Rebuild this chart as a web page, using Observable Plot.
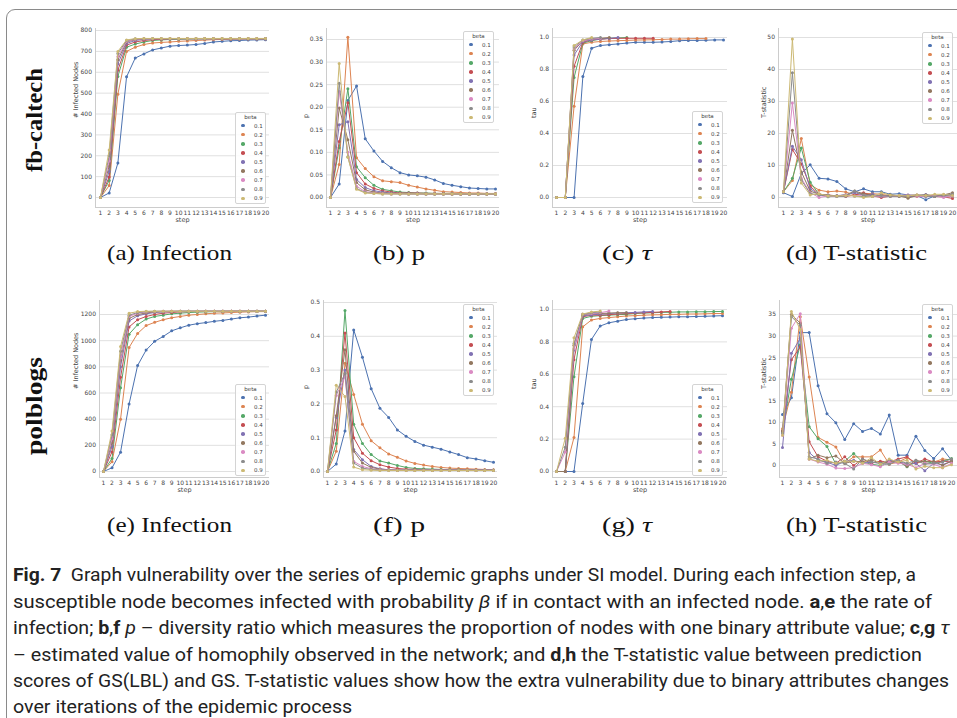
<!DOCTYPE html>
<html><head><meta charset="utf-8">
<script src="https://cdn.jsdelivr.net/npm/d3@7"></script>
<script src="https://cdn.jsdelivr.net/npm/@observablehq/plot@0.6"></script>
<style>
body{margin:0;background:#fff;}
#root{position:relative;width:957px;height:718px;overflow:hidden;background:#fff;}
.abs{position:absolute;}
.border{position:absolute;left:6px;top:9px;width:1000px;height:800px;border:1.5px solid #8a8a8a;border-radius:9px;}
.legend{position:absolute;width:31px;height:92px;border:0.8px solid #d4d4d4;border-radius:2px;background:rgba(255,255,255,0.85);font-family:"DejaVu Sans";font-size:5.5px;color:#444;box-sizing:border-box;}
.legend .t{position:absolute;left:0;width:100%;text-align:center;line-height:6px;}
.legend .d{position:absolute;width:3.6px;height:3.6px;border-radius:50%;}
.legend .l{position:absolute;line-height:6px;}
.cap{position:absolute;font-family:"Liberation Serif",serif;font-size:21px;color:#111;white-space:nowrap;display:inline-block;line-height:24px;}
.row{position:absolute;font-family:"Liberation Serif",serif;font-weight:bold;font-size:23px;color:#111;white-space:nowrap;}
.fig{position:absolute;left:13px;font-family:"Liberation Sans Narrow","Roboto","Open Sans",sans-serif;font-size:19px;color:#222;white-space:nowrap;display:inline-block;line-height:20px;}
.fig b{font-weight:bold;}
</style></head><body><div id="root"><div class="border"></div></div>
<script>
const steps = [1,2,3,4,5,6,7,8,9,10,11,12,13,14,15,16,17,18,19,20];
const betas = ["0.1","0.2","0.3","0.4","0.5","0.6","0.7","0.8","0.9"];
const colors = ["#4C72B0","#DD8452","#55A868","#C44E52","#8172B3","#937860","#DA8BC3","#8C8C8C","#CCB974"];

// (a) fb-caltech: # infected nodes
const caltechInfected = [
 [0,22,165,578,668,688,707,716,725,728,730,733,738,745,748,751,752,754,755,756],
 [0,57,495,700,720,733,740,743,745,748,750,752,754,756,757,758,759,760,760,760],
 [0,82,580,720,735,745,752,755,757,758,759,760,760,761,761,761,761,761,761,761],
 [0,98,610,730,745,752,756,758,760,761,761,761,761,761,761,761,761,761,761,761],
 [0,125,640,738,752,758,760,761,761,761,761,761,761,761,761,761,761,761,761,761],
 [0,150,660,745,756,760,761,761,761,761,761,761,761,761,761,761,761,761,761,761],
 [0,175,675,748,758,761,761,761,761,761,761,761,761,761,761,761,761,761,761,761],
 [0,200,690,752,760,761,761,761,761,761,761,761,761,761,761,761,761,761,761,761],
 [0,228,700,755,761,762,762,762,762,762,762,762,762,762,762,762,762,762,762,762]
];
// (b) fb-caltech: p
const caltechP = [
 [0,0.030,0.215,0.247,0.130,0.103,0.080,0.066,0.055,0.050,0.048,0.045,0.039,0.031,0.027,0.024,0.021,0.020,0.019,0.019],
 [0,0.073,0.355,0.088,0.064,0.046,0.037,0.035,0.033,0.027,0.023,0.019,0.016,0.013,0.012,0.011,0.010,0.010,0.009,0.009],
 [0,0.110,0.241,0.068,0.044,0.027,0.018,0.015,0.012,0.011,0.010,0.010,0.009,0.009,0.009,0.008,0.008,0.008,0.008,0.008],
 [0,0.124,0.210,0.055,0.030,0.020,0.015,0.012,0.010,0.010,0.010,0.009,0.009,0.009,0.008,0.008,0.008,0.008,0.008,0.008],
 [0,0.161,0.168,0.040,0.022,0.015,0.012,0.010,0.009,0.009,0.009,0.008,0.008,0.008,0.008,0.008,0.008,0.008,0.008,0.008],
 [0,0.198,0.128,0.033,0.017,0.012,0.010,0.009,0.009,0.008,0.008,0.008,0.008,0.008,0.008,0.008,0.008,0.008,0.008,0.008],
 [0,0.235,0.100,0.025,0.013,0.010,0.009,0.008,0.008,0.008,0.008,0.008,0.008,0.008,0.008,0.008,0.008,0.008,0.008,0.008],
 [0,0.253,0.090,0.020,0.011,0.009,0.008,0.008,0.008,0.008,0.008,0.008,0.008,0.008,0.008,0.008,0.008,0.008,0.008,0.008],
 [0,0.297,0.089,0.018,0.010,0.009,0.008,0.008,0.008,0.008,0.008,0.008,0.008,0.008,0.008,0.008,0.008,0.008,0.008,0.008]
];
// (c) fb-caltech: tau (series end when tau is no longer defined)
const caltechTau = [
 [0,0,0,0.757,0.933,0.950,0.955,0.960,0.965,0.970,0.970,0.970,0.972,0.975,0.980,0.982,0.982,0.983,0.985,0.985],
 [0,0,0.570,0.960,0.970,0.975,0.978,0.980,0.982,0.984,0.985,0.986,0.988,0.990,0.990,0.992,0.993,0.993],
 [0,0,0.750,0.965,0.980,0.990,0.995,0.997,1.000],
 [0,0,0.820,0.970,0.985,0.990,0.993,0.995,0.995,0.995,0.995,0.995],
 [0,0,0.890,0.975,0.985,0.990,0.995,1.000],
 [0,0,0.920,0.980,0.990,0.995,1.000],
 [0,0,0.930,0.980,0.990,0.995],
 [0,0,0.940,0.985,0.995,1.000],
 [0,0,0.950,0.985,1.000]
];
// (d) fb-caltech: T-statistic
const caltechT = [
 [1.5,0.3,7.5,10.2,6.0,5.8,5.0,2.7,1.8,2.7,1.8,1.8,1.0,1.2,0.8,0.6,-0.7,0.5,0.8,0.8],
 [1.8,5.3,18.4,4.0,2.3,1.8,2.0,1.7,0.8,1.3,1.2,1.0,0.5,0.5,0.6,0.8,0.5,0.3,0.6,0.5],
 [1.8,6.0,15.5,4.8,1.0,0.2,0.5,0.8,0.5,0.3,0.4,0.6,0.7,0.5,0.3,0.6,0.8,0.4,0.6,0.3],
 [1.8,15.0,10.5,3.5,1.0,0.8,0.5,0.3,0.8,1.5,0.5,0.0,0.4,0.5,0.6,0.4,0.5,0.3,0.2,-0.3],
 [1.8,16.0,11.8,2.8,0.8,0.5,0.6,0.8,1.5,0.8,1.0,0.3,0.6,0.5,0.2,0.6,0.9,0.4,0.5,0.6],
 [1.8,21.0,8.0,2.0,1.0,0.6,0.5,0.8,2.0,1.2,0.6,0.5,0.8,0.5,-0.2,0.6,0.8,0.5,0.8,1.5],
 [1.8,29.5,6.0,1.5,0.0,0.5,0.3,0.8,0.5,0.6,0.3,0.5,0.3,0.6,0.8,0.5,0.3,0.6,0.0,0.5],
 [1.8,39.0,5.5,1.2,0.8,0.8,0.3,0.4,2.0,0.6,0.5,0.6,0.3,0.5,0.6,0.8,0.4,0.3,0.8,1.0],
 [1.8,49.5,4.5,0.8,1.2,0.5,0.5,0.6,0.5,0.0,0.3,1.5,0.8,0.6,0.5,0.8,0.6,1.0,1.0,0.6]
];
// (e) polblogs: # infected nodes
const polblogsInfected = [
 [0,28,148,515,810,928,995,1032,1075,1098,1118,1130,1138,1148,1155,1165,1175,1180,1188,1195],
 [0,75,400,948,1055,1115,1140,1160,1175,1185,1195,1200,1205,1210,1212,1215,1218,1220,1222,1222],
 [0,100,640,1050,1122,1165,1185,1195,1205,1210,1215,1218,1220,1222,1222,1223,1223,1224,1224,1224],
 [0,150,720,1105,1160,1185,1200,1210,1215,1220,1222,1223,1224,1224,1224,1225,1225,1225,1225,1225],
 [0,190,800,1150,1190,1205,1215,1220,1222,1224,1225,1225,1225,1225,1225,1225,1225,1225,1225,1225],
 [0,220,850,1170,1200,1212,1220,1222,1224,1225,1225,1225,1225,1225,1225,1225,1225,1225,1225,1225],
 [0,250,880,1185,1210,1220,1223,1225,1225,1225,1225,1225,1225,1225,1225,1225,1225,1225,1225,1225],
 [0,280,920,1195,1215,1222,1225,1225,1225,1225,1225,1225,1225,1225,1225,1225,1225,1225,1225,1225],
 [0,310,955,1210,1222,1225,1225,1225,1225,1225,1225,1225,1225,1225,1225,1225,1225,1225,1225,1225]
];
// (f) polblogs: p
const polblogsP = [
 [0,0.022,0.120,0.419,0.338,0.245,0.187,0.160,0.123,0.104,0.089,0.078,0.072,0.066,0.058,0.050,0.041,0.037,0.032,0.027],
 [0,0.060,0.320,0.228,0.140,0.091,0.070,0.052,0.042,0.031,0.024,0.019,0.015,0.012,0.010,0.009,0.008,0.007,0.006,0.005],
 [0,0.083,0.476,0.140,0.083,0.050,0.031,0.025,0.018,0.012,0.009,0.008,0.007,0.006,0.005,0.005,0.004,0.004,0.004,0.004],
 [0,0.123,0.410,0.100,0.054,0.032,0.020,0.013,0.009,0.007,0.006,0.005,0.004,0.004,0.004,0.004,0.004,0.004,0.004,0.004],
 [0,0.160,0.300,0.065,0.035,0.015,0.008,0.005,0.004,0.004,0.004,0.004,0.004,0.004,0.004,0.004,0.004,0.004,0.004,0.004],
 [0,0.165,0.360,0.060,0.025,0.012,0.007,0.005,0.004,0.004,0.004,0.004,0.004,0.004,0.004,0.004,0.004,0.004,0.004,0.004],
 [0,0.225,0.280,0.030,0.015,0.008,0.005,0.004,0.004,0.004,0.004,0.004,0.004,0.004,0.004,0.004,0.004,0.004,0.004,0.004],
 [0,0.235,0.290,0.025,0.010,0.006,0.004,0.004,0.004,0.004,0.004,0.004,0.004,0.004,0.004,0.004,0.004,0.004,0.004,0.004],
 [0,0.255,0.222,0.013,0.005,0.004,0.003,0.003,0.003,0.003,0.003,0.003,0.003,0.003,0.003,0.003,0.003,0.003,0.003,0.003]
];
// (g) polblogs: tau
const polblogsTau = [
 [0,0,0,0.420,0.815,0.898,0.918,0.928,0.938,0.943,0.947,0.950,0.952,0.953,0.955,0.955,0.957,0.958,0.960,0.962],
 [0,0,0.210,0.893,0.935,0.945,0.950,0.955,0.960,0.962,0.965,0.967,0.968,0.970,0.970,0.972,0.972,0.973,0.975,0.975],
 [0,0,0.585,0.945,0.958,0.962,0.965,0.968,0.970,0.975,0.978,0.980,0.982,0.983,0.985,0.985,0.986,0.986,0.987,0.988],
 [0,0,0.690,0.955,0.965,0.965,0.968,0.972,0.975,0.978,0.980,0.982,0.985,0.988],
 [0,0,0.750,0.960,0.968,0.970,0.975,0.978,0.980,0.982,0.985,0.988],
 [0,0,0.780,0.965,0.975,0.975,0.978,0.980,0.980],
 [0,0.120,0.760,0.970,0.975,0.980,0.990],
 [0,0.150,0.790,0.970,0.980,0.985],
 [0,0.205,0.825,0.972,0.985,0.990]
];
// (h) polblogs: T-statistic
const polblogsT = [
 [11.8,15.7,30.8,30.8,18.5,12.0,9.9,6.0,9.7,7.9,8.6,7.3,11.7,2.4,2.4,6.8,3.5,1.6,3.9,1.2],
 [8.5,17.0,34.5,20.5,6.5,5.4,4.3,0.5,2.0,2.0,2.0,3.6,0.3,0.8,1.8,0.5,1.0,0.8,1.5,1.3],
 [7.8,20.0,28.0,9.0,6.2,4.4,0.3,1.0,2.8,0.8,0.3,0.0,0.5,1.0,-0.3,0.8,1.0,0.5,1.0,1.6],
 [8.0,24.5,27.5,5.5,2.0,1.0,0.5,2.0,0.0,1.5,0.5,1.0,0.8,1.5,2.0,0.5,1.5,0.8,1.0,0.8],
 [4.2,26.0,29.5,3.0,1.2,0.8,0.0,1.0,1.2,0.5,0.8,0.5,1.2,1.0,0.3,0.5,-1.2,0.5,0.2,1.0],
 [8.0,35.0,33.0,1.5,2.4,1.8,2.2,0.5,1.0,0.8,1.3,0.5,0.8,1.0,-0.2,1.2,0.8,1.0,0.0,1.0],
 [7.0,31.8,35.2,1.5,0.8,0.3,-0.6,-0.7,-0.5,0.5,0.2,-0.3,0.8,0.5,0.3,-0.5,0.5,0.3,-0.5,0.5],
 [7.5,34.5,32.5,2.0,1.5,0.5,0.8,0.5,-0.8,1.5,0.8,0.5,0.3,1.2,0.5,1.2,0.3,0.5,0.8,1.5],
 [7.0,35.7,31.5,1.5,1.0,1.2,0.5,1.0,1.0,0.5,1.8,0.3,1.5,0.8,1.2,-0.8,-0.2,-0.5,-0.5,0.2]
];

const infTicksA = [0,100,200,300,400,500,600,700,800];
const pTicksB = [0,0.05,0.10,0.15,0.20,0.25,0.30,0.35];
const tauTicks = [0,0.2,0.4,0.6,0.8,1.0];
const tTicksD = [0,10,20,30,40,50];
const infTicksE = [0,200,400,600,800,1000,1200];
const pTicksF = [0,0.1,0.2,0.3,0.4,0.5];
const tTicksH = [0,5,10,15,20,25,30,35];

const root = document.getElementById("root");

const panels = [
 {series:caltechInfected, fL:95,fR:269,fT:28,fB:207,x1:100,x20:265,y0px:197,y1px:30,y1v:800, ticks:infTicksA, fmt:d=>String(d), ylabel:"# Infected Nodes", ldx:-20, leg:[235,112]},
 {series:caltechP, fL:326,fR:499,fT:28,fB:207,x1:330,x20:495,y0px:197,y1px:39,y1v:0.35, ticks:pTicksB, fmt:d=>d.toFixed(2), ylabel:"p", ldx:-21, leg:[463,31]},
 {series:caltechTau, fL:552,fR:727,fT:28,fB:207,x1:556,x20:723,y0px:197,y1px:37,y1v:1, ticks:tauTicks, fmt:d=>d.toFixed(1), ylabel:"tau", ldx:-19, leg:[692,111]},
 {series:caltechT, fL:778,fR:957,fT:28,fB:207,x1:783,x20:952,y0px:197,y1px:37,y1v:50, ticks:tTicksD, fmt:d=>String(d), ylabel:"T-statistic", ldx:-15, leg:[922,32]},
 {series:polblogsInfected, fL:99,fR:269,fT:300,fB:477,x1:103,x20:265,y0px:471,y1px:314,y1v:1200, ticks:infTicksE, fmt:d=>String(d), ylabel:"# Infected Nodes", ldx:-24, leg:[235,384]},
 {series:polblogsP, fL:323,fR:497,fT:300,fB:477,x1:327,x20:493,y0px:471,y1px:302,y1v:0.5, ticks:pTicksF, fmt:d=>d.toFixed(1), ylabel:"p", ldx:-18, leg:[463,304]},
 {series:polblogsTau, fL:552,fR:727,fT:300,fB:477,x1:556,x20:722,y0px:471,y1px:309,y1v:1, ticks:tauTicks, fmt:d=>d.toFixed(1), ylabel:"tau", ldx:-19, leg:[692,384]},
 {series:polblogsT, fL:779,fR:957,fT:300,fB:477,x1:782,x20:951,y0px:465,y1px:314,y1v:35, ticks:tTicksH, fmt:d=>String(d), ylabel:"T-statistic", ldx:-16, leg:[922,304]}
];

for (const p of panels) {
  const sp = (p.x20 - p.x1) / 19;
  const xd = [1 - (p.x1 - p.fL) / sp, 20 + (p.fR - p.x20) / sp];
  const k = (p.y0px - p.y1px) / p.y1v;
  const yd = [-(p.fB - p.y0px) / k, (p.y0px - p.fT) / k];
  const ML = 50, MT = 4, MR = 2, MB = 24;
  const left = p.fL - ML, top = p.fT - MT;
  const width = p.fR + MR - left, height = p.fB + MB - top;
  const marks = [
    Plot.ruleY(p.ticks, {stroke: "#e0e0e0", strokeWidth: 1}),
    Plot.ruleX([xd[0]], {stroke: "#cccccc", strokeWidth: 1}),
    Plot.ruleY([yd[0]], {stroke: "#cccccc", strokeWidth: 1})
  ];
  p.series.forEach((vals, i) => {
    const data = vals.map((v, j) => ({step: steps[j], value: v}));
    marks.push(Plot.line(data, {x: "step", y: "value", stroke: colors[i], strokeWidth: 1}));
    marks.push(Plot.dot(data, {x: "step", y: "value", fill: colors[i], r: 1.5}));
  });
  marks.push(Plot.text([p.ylabel], {frameAnchor: "left", rotate: -90, dx: p.ldx, fontSize: 6.5, fill: "#444"}));
  marks.push(Plot.text(["step"], {frameAnchor: "bottom", dy: 14, fontSize: 6.5, fill: "#444"}));
  const chart = Plot.plot({
    width, height, marginLeft: ML, marginTop: MT, marginRight: MR, marginBottom: MB,
    style: {fontSize: "6px", fontFamily: "DejaVu Sans", color: "#444", background: "transparent", overflow: "visible"},
    x: {type: "linear", domain: xd, ticks: steps, tickSize: 0, tickPadding: 3, tickFormat: d => String(d), label: null},
    y: {type: "linear", domain: yd, ticks: p.ticks, tickSize: 0, tickPadding: 3.5, tickFormat: p.fmt, label: null},
    marks
  });
  chart.style.position = "absolute";
  chart.style.left = left + "px";
  chart.style.top = top + "px";
  root.appendChild(chart);

  // legend
  const lg = document.createElement("div");
  lg.className = "legend";
  lg.style.left = p.leg[0] + "px";
  lg.style.top = p.leg[1] + "px";
  const t = document.createElement("div");
  t.className = "t"; t.style.top = "1px"; t.textContent = "beta";
  lg.appendChild(t);
  betas.forEach((b, i) => {
    const cy = 12.6 + i * 9.1;
    const d = document.createElement("div");
    d.className = "d"; d.style.background = colors[i];
    d.style.left = (7 - 1.8) + "px"; d.style.top = (cy - 1.8) + "px";
    lg.appendChild(d);
    const l = document.createElement("div");
    l.className = "l"; l.textContent = b;
    l.style.left = "18px"; l.style.top = (cy - 3) + "px";
    lg.appendChild(l);
  });
  root.appendChild(lg);
}

// subfigure captions
const subCaps = [
  ["(a) ", "Infection", 169, 253, 125],
  ["(b) ", "p", 399, 253, 52],
  ["(c) ", "τ", 627, 253, 50],
  ["(d) ", "T-statistic", 856, 253, 141],
  ["(e) ", "Infection", 169, 525, 125],
  ["(f) ", "p", 399, 525, 52],
  ["(g) ", "τ", 627, 525, 50],
  ["(h) ", "T-statistic", 856, 525, 141]
];
for (const [a, b, cx, cy, w] of subCaps) {
  const el = document.createElement("div");
  el.className = "cap";
  const s1 = document.createElement("span"); s1.textContent = a;
  const s2 = document.createElement("span"); s2.textContent = b;
  if (b === "τ") s2.style.fontStyle = "italic";
  el.appendChild(s1); el.appendChild(s2);
  root.appendChild(el);
  const nw = el.getBoundingClientRect().width;
  el.style.left = (cx - w / 2) + "px";
  el.style.top = (cy - 12) + "px";
  el.style.transformOrigin = "left center";
  el.style.transform = `scaleX(${w / nw})`;
}

// row labels
const rowLabels = [["fb-caltech", 35, 120, 104], ["polblogs", 35, 406, 98]];
for (const [txt, cx, cy, len] of rowLabels) {
  const el = document.createElement("div");
  el.className = "row";
  el.textContent = txt;
  root.appendChild(el);
  const r = el.getBoundingClientRect();
  const s = len / r.width;
  el.style.left = (cx - r.width / 2) + "px";
  el.style.top = (cy - r.height / 2) + "px";
  el.style.transform = `rotate(-90deg) scaleX(${s})`;
}

// figure caption
const captionLines = [
  ['<b>Fig. 7</b>&nbsp; Graph vulnerability over the series of epidemic graphs under SI model. During each infection step, a', 575, 903],
  ['susceptible node becomes infected with probability <i>β</i> if in contact with an infected node. <b>a</b>,<b>e</b> the rate of', 601.5, 919],
  ['infection; <b>b</b>,<b>f</b> <i>p</i> – diversity ratio which measures the proportion of nodes with one binary attribute value; <b>c</b>,<b>g</b> <i>τ</i>', 628, 937],
  ['– estimated value of homophily observed in the network; and <b>d</b>,<b>h</b> the T-statistic value between prediction', 654.5, 909],
  ['scores of GS(LBL) and GS. T-statistic values show how the extra vulnerability due to binary attributes changes', 681, 936],
  ['over iterations of the epidemic process', 706.5, null]
];
const lineEls = [];
let scales = [];
for (const [html, cy, w] of captionLines) {
  const el = document.createElement("div");
  el.className = "fig";
  el.innerHTML = html;
  el.style.top = (cy - 10) + "px";
  root.appendChild(el);
  const nw = el.getBoundingClientRect().width;
  if (w) scales.push(w / nw);
  lineEls.push([el, w, nw]);
}
const avg = scales.reduce((a, b) => a + b, 0) / scales.length;
for (const [el, w, nw] of lineEls) {
  const s = w ? w / nw : avg;
  el.style.transformOrigin = "left center";
  el.style.transform = `scaleX(${s})`;
}
</script></body></html>
